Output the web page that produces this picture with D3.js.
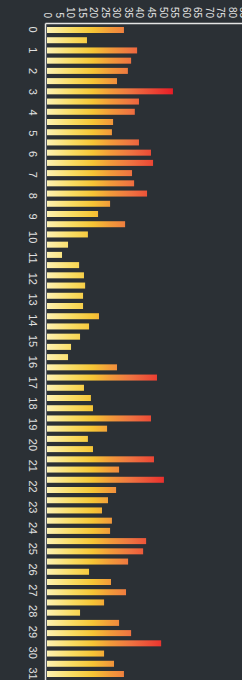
<!DOCTYPE html>
<html>
<head>
<meta charset="utf-8">
<style>
    body { margin: 0; background: #2b3035; }
    svg { display: block; font-family: "Liberation Sans", Arial, sans-serif; }
</style>
</head>
<body>
<svg width="242" height="680"></svg>

<script src="https://d3js.org/d3.v7.min.js"></script>
<script>
    // values, one per bar (top to bottom)
    let values = [
        33.3, 17.3, 39.0, 36.4, 35.0, 30.3, 54.5, 39.8, 38.0, 28.6,
        28.1, 39.8, 45.0, 45.9, 36.8, 37.7, 43.3, 27.3, 22.1, 33.8,
        17.7, 9.1, 6.5, 13.9, 16.0, 16.5, 15.6, 15.6, 22.5, 18.2,
        14.3, 10.4, 9.1, 30.3, 47.6, 16.0, 19.0, 19.9, 45.0, 26.0,
        17.7, 19.9, 46.3, 31.2, 50.6, 29.9, 26.4, 23.8, 28.1, 27.3,
        42.9, 41.6, 35.1, 18.2, 27.7, 34.2, 24.7, 14.3, 31.2, 36.4,
        49.4, 24.7, 29.0, 33.3, 30.0
    ]
    let barIndex = d3.range(values.length)
    let dayTicks = d3.range(0, 32)
    let valueTicks = d3.range(0, 90, 5)

    let width = 242
    let height = 680

    let svg = d3.select("svg")

    svg.append("rect")
        .attr("width", width)
        .attr("height", height)
        .style("fill", "#2b3035")

    let x = d3.scaleLinear()
        .domain([0, 85])
        .range([47, 243.4])

    // bar centres
    let y = d3.scaleLinear()
        .domain([0, 63])
        .range([30, 674])

    // tick labels 0..31 span the same stretch
    let day = d3.scaleLinear()
        .domain([0, 31])
        .range([y(0) - 1, y(63) - 1])

    // gradient laid along the value axis, so short bars stay yellow
    let grad = svg.append("defs").append("linearGradient")
        .attr("id", "barGrad")
        .attr("gradientUnits", "userSpaceOnUse")
        .attr("x1", x(0)).attr("x2", x(55))
        .attr("y1", 0).attr("y2", 0)

    let stops = [
        [0, "#fdf1b2"],
        [0.2, "#f9dc62"],
        [0.36, "#f6c535"],
        [0.5, "#f29a3a"],
        [0.66, "#ef7341"],
        [0.82, "#ec4a36"],
        [1, "#e81a26"]
    ]
    grad.selectAll("stop")
        .data(stops)
        .join("stop")
        .attr("offset", d => d[0])
        .attr("stop-color", d => d[1])

    let barH = 6

    svg.selectAll(".bar")
        .data(barIndex)
        .join("rect")
        .attr("class", "bar")
        .attr("x", x(0))
        .attr("y", i => y(i) - barH / 2)
        .attr("width", i => x(values[i]) - x(0))
        .attr("height", barH)
        .style("fill", "url(#barGrad)")

    // top axis (values)
    let topAxis = svg.append("g")
        .attr("transform", "translate(0,23.5)")
        .call(d3.axisTop(x).tickValues(valueTicks).tickSize(0).tickPadding(0))

    topAxis.select(".domain").remove()
    topAxis.selectAll("text")
        .attr("y", 0)
        .attr("transform", "translate(0,-5.5) rotate(90)")
        .attr("text-anchor", "end")
        .attr("dy", "0.35em")
        .style("font-size", "10px")
        .style("fill", "#e0e0e0")

    // left axis (days)
    let leftAxis = svg.append("g")
        .attr("transform", "translate(45.5,0)")
        .call(d3.axisLeft(day).tickValues(dayTicks).tickSize(0).tickPadding(0))

    leftAxis.select(".domain").remove()
    leftAxis.selectAll("text")
        .attr("x", 0)
        .attr("transform", "translate(-12.5,0) rotate(90)")
        .attr("text-anchor", "middle")
        .attr("dy", "0.35em")
        .style("font-size", "11px")
        .style("fill", "#e0e0e0")

    // axis lines
    svg.append("line")
        .attr("x1", x(0) - 1.5).attr("x2", x.range()[1])
        .attr("y1", 23.5).attr("y2", 23.5)
        .style("stroke", "#e4e4e4")
        .style("stroke-width", 1.5)

    svg.append("line")
        .attr("x1", x(0) - 1.5).attr("x2", x(0) - 1.5)
        .attr("y1", 23.5).attr("y2", height)
        .style("stroke", "#e4e4e4")
        .style("stroke-width", 1.5)
</script>
</body>
</html>
